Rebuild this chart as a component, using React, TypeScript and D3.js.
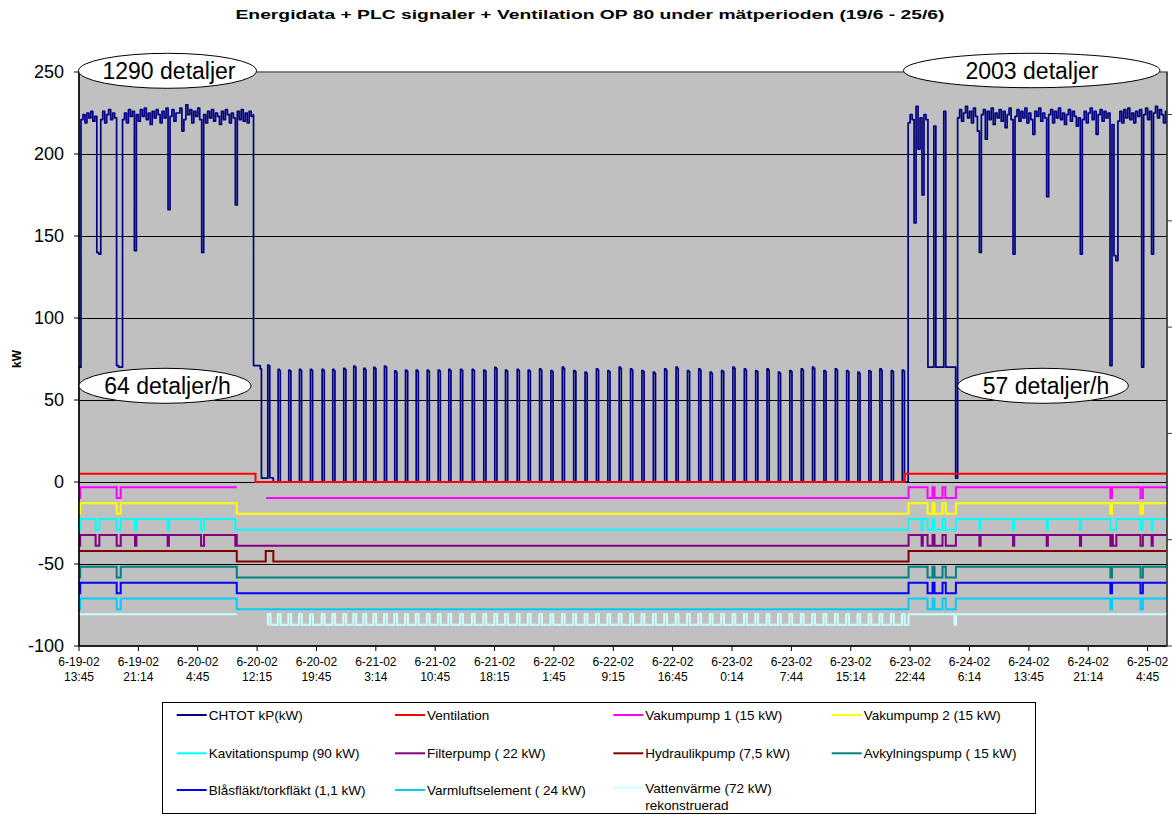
import React from "react";
import * as d3 from "d3";

const FONT = "'Liberation Sans', Arial, Helvetica, sans-serif";

// ---------- text ----------
const titleText = "Energidata + PLC signaler + Ventilation OP 80 under mätperioden (19/6 - 25/6)";
const yAxisTitle = "kW";

// ---------- axes ----------
const yTickValues = [250, 200, 150, 100, 50, 0, -50, -100];
const yGridValues = [200, 150, 100, 50, 0, -50];
const secondaryTickValues = [0, 1, 2, 3, 4, 5];
const xTickHours = [0, 7.5, 15, 22.5, 30, 37.5, 45, 52.5, 60, 67.5, 75, 82.5, 90, 97.5, 105, 112.5, 120, 127.5, 135];
const xTickDates = ["6-19-02", "6-19-02", "6-20-02", "6-20-02", "6-20-02", "6-21-02", "6-21-02", "6-21-02", "6-22-02", "6-22-02", "6-22-02", "6-23-02", "6-23-02", "6-23-02", "6-23-02", "6-24-02", "6-24-02", "6-24-02", "6-25-02"];
const xTickTimes = ["13:45", "21:14", "4:45", "12:15", "19:45", "3:14", "10:45", "18:15", "1:45", "9:15", "16:45", "0:14", "7:44", "15:14", "22:44", "6:14", "13:45", "21:14", "4:45"];
const HOURS_END = 137.45;

// ---------- CHTOT kP (kW) ----------
const sampleStep = 0.25; // hours between samples
const chtotRun1Start = 0;
const chtotRun1 = [70, 221, 224, 219, 225, 222, 226, 220, 223, 140, 139, 221, 226, 219, 224, 227, 221, 225, 222, 71, 70, 70, 221, 225, 219, 227, 223, 226, 141, 224, 220, 227, 223, 228, 221, 225, 218, 226, 222, 227, 224, 219, 226, 222, 228, 166, 223, 227, 220, 225, 225, 228, 214, 221, 230, 224, 227, 219, 226, 223, 228, 221, 140, 224, 219, 226, 222, 227, 220, 225, 223, 218, 226, 221, 227, 224, 219, 225, 222, 169, 226, 221, 227, 220, 225, 219, 226, 223, 224];
const chtotShutdown: [number, number][] = [[22.05, 71], [22.8, 71], [22.9, 69], [23.05, 2.4], [23.8, 2.3], [23.85, 71.3], [24.0, 70.8], [24.1, 2.6], [24.45, 2.4], [24.55, 0]];
const heatPulseHours = [23.85, 25.11, 26.45, 27.8, 29.19, 30.67, 32.01, 33.4, 34.66, 35.93, 37.19, 38.54, 39.84, 41.2, 42.55, 43.94, 45.33, 46.67, 48.15, 49.63, 51.09, 52.48, 53.83, 55.31, 56.7, 58.14, 59.57, 61.01, 62.45, 63.88, 65.32, 66.76, 68.19, 69.63, 71.07, 72.51, 73.94, 75.38, 76.82, 78.25, 79.69, 81.13, 82.56, 84.0, 85.44, 86.87, 88.31, 89.75, 91.19, 92.62, 94.06, 95.5, 96.93, 98.35, 99.74, 101.13, 102.57, 103.96];
const heatPulsePeaks = [71.3, 68.7, 68.3, 68.7, 68.7, 68.7, 68.7, 69.3, 70.7, 69.3, 69.9, 70.7, 67.7, 68.3, 68.3, 68.3, 68.3, 68.7, 68.7, 68.7, 68.3, 69.9, 68.3, 68.7, 68.3, 69, 68, 70, 68, 67, 69, 68, 70, 69, 68, 67, 69, 70, 68, 69, 67, 68, 70, 69, 68, 69, 67, 68, 69, 70, 68, 69, 68, 67, 68, 69, 68, 68.3];
const chtotStartup: [number, number][] = [[104.68, 0]];
const chtotRun2Start = 104.75;
const chtotRun2 = [219, 224, 221, 158, 229, 203, 222, 175, 224, 221, 70, 70, 70, 217, 70, 70, 70, 70, 226, 70, 70, 70, 70, 70, 2.4, 222, 227, 220, 225, 229, 222, 226, 219, 228, 223, 214, 140, 224, 227, 209, 226, 221, 228, 218, 225, 222, 227, 220, 226, 216, 224, 228, 221, 139, 223, 227, 220, 226, 222, 228, 219, 225, 221, 212, 226, 223, 228, 220, 225, 222, 174, 224, 227, 219, 226, 222, 228, 221, 225, 218, 224, 227, 220, 226, 223, 217, 222, 139, 221, 226, 219, 225, 228, 221, 226, 212, 224, 227, 220, 226, 222, 225, 71, 218, 138, 135, 220, 226, 219, 227, 222, 228, 221, 225, 219, 226, 223, 227, 70, 224, 228, 221, 226, 139, 225, 229, 222, 227, 224, 219, 226, 211];

// ---------- PLC signals: [hour, state] (1 = on, 0 = off, null = no data) ----------
type Change = [number, number | null];
const ventilationChanges: Change[] = [[0, 1], [22.3, 0], [104.3, 1]];
const vakum1Changes: Change[] = [[0, 0], [0.15, 1], [4.76, 0], [5.27, 1], [19.93, null], [23.63, 0], [104.8, 1], [107.2, 0], [107.83, 1], [108.08, 0], [109.09, 1], [109.45, 0], [110.78, 1], [130.3, 0], [130.5, 1], [134.1, 0], [134.4, 1]];
const vakum2Changes: Change[] = [[0, 0], [0.15, 1], [4.76, 0], [5.27, 1], [19.93, 0], [104.8, 1], [107.2, 0], [107.83, 1], [108.08, 0], [109.09, 1], [109.5, 0], [110.78, 1], [130.3, 0], [130.5, 1], [134.1, 0], [134.4, 1]];
const kavitationChanges: Change[] = [[0, 0], [0.15, 1], [2.1, 0], [2.57, 1], [4.76, 0], [5.27, 1], [7.08, 0], [7.3, 1], [11.2, 0], [11.4, 1], [15.42, 0], [15.8, 1], [19.75, 0], [104.8, 1], [106.45, 0], [106.6, 1], [107.2, 0], [107.83, 1], [108.08, 0], [109.09, 1], [109.45, 0], [110.78, 1], [113.75, 0], [113.9, 1], [118.0, 0], [118.15, 1], [122.25, 0], [122.4, 1], [126.45, 0], [126.6, 1], [130.3, 0], [131.05, 1], [134.1, 0], [134.4, 1], [135.5, 0], [135.65, 1]];
const filterChanges: Change[] = [[0, 0], [0.15, 1], [2.1, 0], [2.57, 1], [4.76, 0], [5.27, 1], [7.08, 0], [7.25, 1], [11.2, 0], [11.35, 1], [15.42, 0], [15.8, 1], [19.75, 0], [19.85, 1], [19.93, 0], [104.8, 1], [106.45, 0], [106.6, 1], [107.2, 0], [107.83, 1], [108.08, 0], [109.09, 1], [109.5, 0], [110.78, 1], [113.75, 0], [113.9, 1], [118.0, 0], [118.15, 1], [122.25, 0], [122.4, 1], [126.45, 0], [126.6, 1], [130.3, 0], [130.45, 1], [130.6, 0], [131.05, 1], [134.1, 0], [134.4, 1], [135.5, 0], [135.65, 1]];
const hydraulikChanges: Change[] = [[0, 1], [19.93, 0], [23.59, 1], [24.55, 0], [104.8, 1]];
const avkylningChanges: Change[] = [[0, 0], [0.15, 1], [4.76, 0], [5.27, 1], [19.93, 0], [104.8, 1], [107.2, 0], [107.83, 1], [108.08, 0], [109.09, 1], [109.5, 0], [110.78, 1], [130.3, 0], [130.5, 1], [134.1, 0], [134.4, 1]];
const blasflaktChanges: Change[] = [[0, 0], [0.15, 1], [4.76, 0], [5.27, 1], [19.93, 0], [104.8, 1], [107.2, 0], [107.83, 1], [108.08, 0], [109.09, 1], [109.5, 0], [110.78, 1], [130.3, 0], [130.5, 1], [134.1, 0], [134.4, 1]];
const varmluftChanges: Change[] = [[0, 0], [0.15, 1], [4.76, 0], [5.27, 1], [19.93, 0], [104.8, 1], [107.2, 0], [107.83, 1], [108.08, 0], [109.09, 1], [109.5, 0], [110.78, 1], [130.3, 0], [130.5, 1], [134.1, 0], [134.4, 1]];
const vattenvarmeBefore: Change[] = [[0, 1], [19.93, null], [23.8, 0]];
const vattenvarmeAfter: Change[] = [[104.8, 1], [110.6, 0], [110.8, 1]];
const heatPulseLength = 0.35;

// signal levels (kW axis) in series order: Ventilation .. Vattenvärme
const signalOnLevels = [5, -3.2, -12.9, -22.6, -32.3, -42, -51.7, -61.4, -71.1, -80.6];
const signalOffLevels = [0, -9.7, -19.4, -29.1, -38.8, -48.5, -58.2, -67.9, -77.6, -87.1];

// ---------- series / legend ----------
const seriesNames = ["CHTOT kP(kW)", "Ventilation", "Vakumpump 1 (15 kW)", "Vakumpump 2 (15 kW)", "Kavitationspump (90 kW)", "Filterpump ( 22 kW)", "Hydraulikpump (7,5 kW)", "Avkylningspump ( 15 kW)", "Blåsfläkt/torkfläkt (1,1 kW)", "Varmluftselement ( 24 kW)", "Vattenvärme (72 kW)|rekonstruerad"];
const seriesColors = ["#000080", "#FF0000", "#FF00FF", "#FFFF00", "#00FFFF", "#800080", "#800000", "#008080", "#0000FF", "#00CCFF", "#CCFFFF"];

// ---------- callouts ----------
const calloutTexts = ["1290 detaljer", "2003 detaljer", "64 detaljer/h", "57 detaljer/h"];

// ---------- layout ----------
const W = 1172, H = 815;
const PL = 79, PR = 1167, PT = 72, PB = 646;
const calloutBoxes = [
  { cx: 167.5, cy: 70.8, rx: 89, ry: 17.5, tx: 169 },
  { cx: 1031.7, cy: 70.5, rx: 128.3, ry: 17.2, tx: 1032 },
  { cx: 165, cy: 385.8, rx: 86, ry: 17.5, tx: 167.5 },
  { cx: 1043, cy: 385.8, rx: 85.3, ry: 17.5, tx: 1046 },
];
const legendBox = { x: 162, y: 702, w: 873, h: 111 };
const legendCols = [176.7, 395, 613.3, 831.7];
const legendRows = [715, 753.3, 790];

function buildChtot(): [number, number][] {
  const pts: [number, number][] = [];
  chtotRun1.forEach((v, i) => pts.push([chtotRun1Start + i * sampleStep, v]));
  chtotShutdown.forEach((p) => pts.push(p));
  heatPulseHours.forEach((t, i) => {
    if (i === 0) return; // first pulse is part of the shutdown sequence
    const pk = heatPulsePeaks[i];
    pts.push([t, 0], [t + 0.05, pk], [t + 0.2, pk - 0.7], [t + 0.32, 0]);
  });
  chtotStartup.forEach((p) => pts.push(p));
  chtotRun2.forEach((v, i) => pts.push([chtotRun2Start + i * sampleStep, v]));
  return pts;
}

function vattenvarmeChanges(): Change[] {
  const c: Change[] = [...vattenvarmeBefore];
  heatPulseHours.forEach((t) => {
    c.push([t, 1], [t + heatPulseLength, 0]);
  });
  return c.concat(vattenvarmeAfter);
}

function stepPoints(changes: Change[], on: number, off: number): [number, number | null][] {
  const lvl = (s: number | null) => (s === null ? null : s ? on : off);
  const pts: [number, number | null][] = [];
  changes.forEach(([t, s], k) => {
    if (k > 0) pts.push([t, lvl(changes[k - 1][1])]);
    pts.push([t, lvl(s)]);
  });
  const last = changes[changes.length - 1][1];
  pts.push([HOURS_END, lvl(last)]);
  return pts;
}

export default function App() {
  const x = d3.scaleLinear().domain([0, HOURS_END]).range([PL, PR]);
  const y = d3.scaleLinear().domain([-100, 250]).range([PB, PT]);
  const y2 = d3.scaleLinear().domain([0, 5.4]).range([PB, PT]);

  const line = d3
    .line<[number, number | null]>()
    .defined((d) => d[1] !== null)
    .x((d) => x(d[0]))
    .y((d) => y(d[1] as number));

  const chtotLine = d3
    .line<[number, number]>()
    .curve(d3.curveStepAfter)
    .x((d) => x(d[0]))
    .y((d) => y(d[1]));

  const chtotPath = chtotLine(buildChtot()) || "";
  const signalChanges: Change[][] = [ventilationChanges, vakum1Changes, vakum2Changes, kavitationChanges, filterChanges, hydraulikChanges, avkylningChanges, blasflaktChanges, varmluftChanges, vattenvarmeChanges()];
  const signalPaths = signalChanges.map((c, i) => line(stepPoints(c, signalOnLevels[i], signalOffLevels[i])) || "");

  return (
    <svg width={W} height={H} style={{ position: "absolute", left: 0, top: 0, background: "#fff" }} fontFamily={FONT}>
      <rect x={0} y={0} width={W} height={H} fill="#fff" />
      <text x={590} y={19} textAnchor="middle" fontSize={13} fontWeight="bold" fill="#000" textLength={709} lengthAdjust="spacingAndGlyphs">{titleText}</text>

      <defs>
        <clipPath id="plotclip"><rect x={PL} y={PT} width={PR - PL} height={PB - PT} /></clipPath>
      </defs>

      <rect x={PL} y={PT} width={PR - PL} height={PB - PT} fill="#C0C0C0" stroke="#606060" strokeWidth={1.5} />
      {yGridValues.map((v) => (
        <line key={v} x1={PL} x2={PR} y1={Math.round(y(v)) + 0.5} y2={Math.round(y(v)) + 0.5} stroke="#000" strokeWidth={1} />
      ))}

      <g clipPath="url(#plotclip)">
        <path d={chtotPath} fill="none" stroke={seriesColors[0]} strokeWidth={1.7} strokeLinejoin="round" />
        {signalPaths.map((d, i) => (
          <path key={i} d={d} fill="none" stroke={seriesColors[i + 1]} strokeWidth={2} />
        ))}
      </g>

      {/* left axis */}
      <line x1={PL} x2={PL} y1={PT} y2={PB} stroke="#000" strokeWidth={1.5} />
      {yTickValues.map((v) => (
        <g key={v}>
          <line x1={PL - 5} x2={PL} y1={y(v)} y2={y(v)} stroke="#000" />
          <text x={64} y={y(v)} dy="0.35em" textAnchor="end" fontSize={18} fill="#000">{v}</text>
        </g>
      ))}
      <text transform={`translate(21,${(PT + PB) / 2}) rotate(-90)`} textAnchor="middle" fontSize={12} fontWeight="bold">{yAxisTitle}</text>

      {/* bottom axis */}
      <line x1={PL} x2={PR} y1={PB} y2={PB} stroke="#000" strokeWidth={1.5} />
      {xTickHours.map((h, i) => (
        <g key={i}>
          <line x1={x(h)} x2={x(h)} y1={PB} y2={PB + 5} stroke="#000" />
          <text x={x(h)} y={666} textAnchor="middle" fontSize={12} fill="#000">{xTickDates[i]}</text>
          <text x={x(h)} y={681} textAnchor="middle" fontSize={12} fill="#000">{xTickTimes[i]}</text>
        </g>
      ))}

      {/* secondary (right) axis */}
      <line x1={PR} x2={PR} y1={PT} y2={PB} stroke="#404040" strokeWidth={1.5} />
      {secondaryTickValues.map((v) => (
        <line key={v} x1={PR} x2={PR + 5} y1={y2(v)} y2={y2(v)} stroke="#404040" />
      ))}

      {/* callouts */}
      {calloutBoxes.map((b, i) => (
        <g key={i}>
          <ellipse cx={b.cx} cy={b.cy} rx={b.rx} ry={b.ry} fill="#fff" stroke="#000" strokeWidth={1} />
          <text x={b.tx} y={b.cy + 8} textAnchor="middle" fontSize={23} fill="#000">{calloutTexts[i]}</text>
        </g>
      ))}

      {/* legend */}
      <rect x={legendBox.x + 0.5} y={legendBox.y + 0.5} width={legendBox.w} height={legendBox.h} fill="#fff" stroke="#000" strokeWidth={1} />
      {seriesNames.map((name, i) => {
        const col = i % 4, row = Math.floor(i / 4);
        const lx = legendCols[col], ly = legendRows[row];
        const lines = name.split("|");
        const lineY = lines.length > 1 ? ly - 2.5 : ly;
        return (
          <g key={i}>
            <line x1={lx} x2={lx + 30} y1={lineY} y2={lineY} stroke={seriesColors[i]} strokeWidth={2} />
            {lines.map((t, k) => (
              <text key={k} x={lx + 32} y={lineY + 5 + k * 17} fontSize={13.5} fill="#000">{t}</text>
            ))}
          </g>
        );
      })}
    </svg>
  );
}
